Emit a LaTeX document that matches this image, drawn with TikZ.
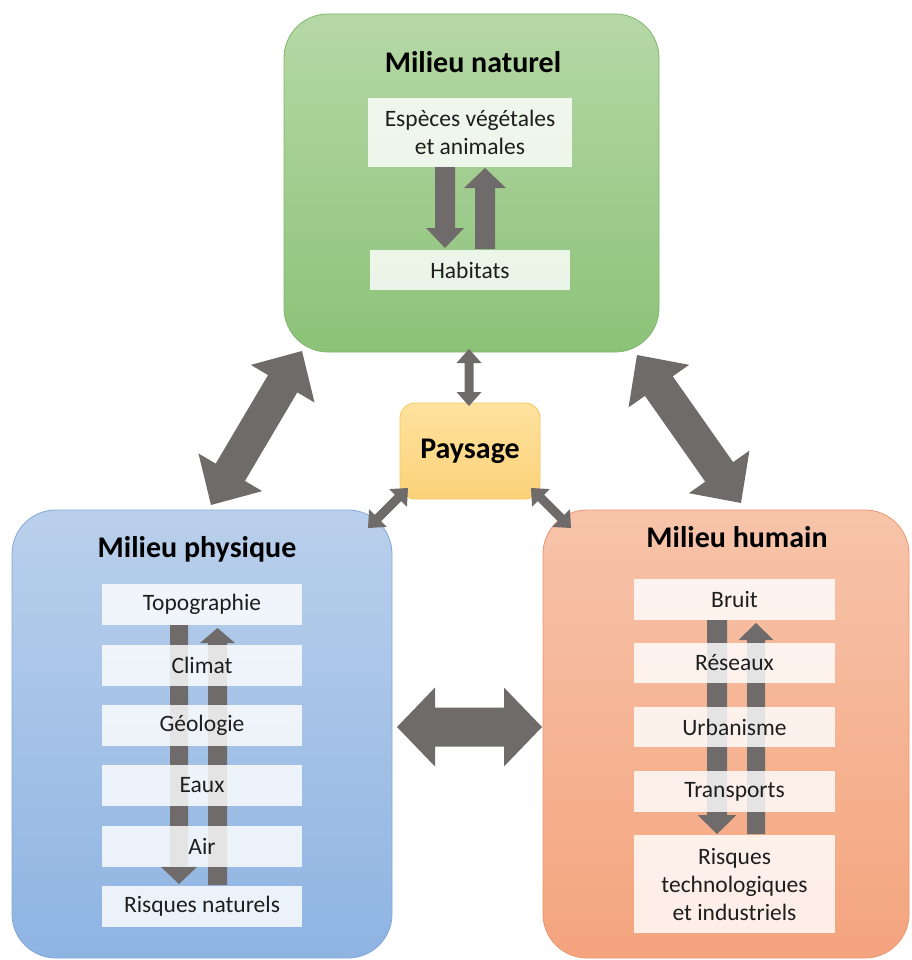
\documentclass[tikz,border=0pt]{standalone}
\usepackage{fontspec}
\setmainfont{Carlito}
\usetikzlibrary{calc}
\definecolor{arrowgray}{RGB}{112,107,107}
\definecolor{gtop}{RGB}{182,216,166}
\definecolor{gbot}{RGB}{140,194,120}
\definecolor{gline}{RGB}{128,182,106}
\definecolor{btop}{RGB}{186,208,236}
\definecolor{bbot}{RGB}{142,180,226}
\definecolor{bline}{RGB}{130,166,214}
\definecolor{otop}{RGB}{247,196,170}
\definecolor{obot}{RGB}{244,164,126}
\definecolor{oline}{RGB}{236,150,112}
\definecolor{ytop}{RGB}{254,226,158}
\definecolor{ybot}{RGB}{252,210,122}
\definecolor{yline}{RGB}{246,200,96}
\definecolor{txt}{RGB}{30,30,30}
\newcommand{\barrow}[5]{%
 \fill[arrowgray] (#1)
  -- ($(#1)!#5!(#2)!#4!90:(#2)$)
  -- ($(#1)!#5!(#2)!#3!90:(#2)$)
  -- ($(#2)!#5!(#1)!#3!-90:(#1)$)
  -- ($(#2)!#5!(#1)!#4!-90:(#1)$)
  -- (#2)
  -- ($(#2)!#5!(#1)!#4!90:(#1)$)
  -- ($(#2)!#5!(#1)!#3!90:(#1)$)
  -- ($(#1)!#5!(#2)!#3!-90:(#2)$)
  -- ($(#1)!#5!(#2)!#4!-90:(#2)$)
  -- cycle;}
\newcommand{\sarrow}[5]{%
 \fill[arrowgray] ($(#1)!#3!90:(#2)$)
  -- ($(#2)!#5!(#1)!#3!-90:(#1)$)
  -- ($(#2)!#5!(#1)!#4!-90:(#1)$)
  -- (#2)
  -- ($(#2)!#5!(#1)!#4!90:(#1)$)
  -- ($(#2)!#5!(#1)!#3!90:(#1)$)
  -- ($(#1)!#3!-90:(#2)$)
  -- cycle;}
\tikzset{
  bigbox/.style={rectangle, rounded corners=44pt, inner sep=0pt, line width=0.8pt},
  titletext/.style={font=\fontsize{30}{34}\selectfont\bfseries, text=black, inner sep=0pt},
  itembox/.style={rectangle, fill=white, fill opacity=0.82, text opacity=1, text=txt,
     inner sep=0pt, font=\fontsize{23.5}{28}\selectfont, align=center},
}
\begin{document}
\begin{tikzpicture}[x=1pt,y=-1pt]
\useasboundingbox (0,0) rectangle (911,960);
% outer boxes
\node[bigbox, draw=gline, top color=gtop, bottom color=gbot, minimum width=375pt, minimum height=338pt] (nat) at (471.5,183) {};
\node[bigbox, draw=bline, top color=btop, bottom color=bbot, minimum width=380pt, minimum height=448pt] (phy) at (202,734) {};
\node[bigbox, draw=oline, top color=otop, bottom color=obot, minimum width=366pt, minimum height=448pt] (hum) at (726,734) {};
\node[rectangle, rounded corners=15pt, draw=yline, line width=0.8pt, top color=ytop, bottom color=ybot,
  minimum width=140pt, minimum height=96pt, inner sep=0pt, font=\fontsize{30}{34}\selectfont\bfseries] (pay) at (470,451) {Paysage};
% titles
\node[titletext] (natT) at (473,62) {Milieu naturel};
\node[titletext] (phyT) at (197,549) {Milieu physique};
\node[titletext] (humT) at (737,537) {Milieu humain};
% inner arrows (drawn below the item boxes)
\coordinate (gd1) at (445,167); \coordinate (gd2) at (445,248);
\coordinate (gu1) at (485,249); \coordinate (gu2) at (485,168);
\sarrow{gd1}{gd2}{10pt}{19pt}{20pt}
\sarrow{gu1}{gu2}{10pt}{21pt}{20pt}
\coordinate (bd1) at (179,625); \coordinate (bd2) at (179,884);
\coordinate (bu1) at (217.5,885); \coordinate (bu2) at (217.5,628);
\sarrow{bd1}{bd2}{9pt}{19pt}{18pt}
\sarrow{bu1}{bu2}{9.5pt}{17.5pt}{15pt}
\coordinate (od1) at (717,620); \coordinate (od2) at (717,834);
\coordinate (ou1) at (756,834); \coordinate (ou2) at (756,623);
\sarrow{od1}{od2}{10pt}{19.5pt}{19pt}
\sarrow{ou1}{ou2}{9pt}{17.5pt}{17pt}
% inner boxes
\node[itembox, minimum width=204pt, minimum height=69pt] (esp) at (470,132.5) {Espèces végétales\\et animales};
\node[itembox, minimum width=200pt, minimum height=40pt] (hab) at (470,270) {Habitats};
\node[itembox, minimum width=200pt, minimum height=41pt] (topo) at (202,604.5) {Topographie};
\node[itembox, minimum width=200pt, minimum height=41pt] (clim) at (202,665) {Climat};
\node[itembox, minimum width=200pt, minimum height=41pt] (geo) at (202,725) {Géologie};
\node[itembox, minimum width=200pt, minimum height=41pt] (eaux) at (202,785.5) {Eaux};
\node[itembox, minimum width=200pt, minimum height=41pt] (air) at (202,846) {Air};
\node[itembox, minimum width=200pt, minimum height=41pt] (rn) at (202,906.5) {Risques naturels};
\node[itembox, minimum width=201pt, minimum height=41pt] (bruit) at (734.5,599.5) {Bruit};
\node[itembox, minimum width=201pt, minimum height=40pt] (res) at (734.5,663) {Réseaux};
\node[itembox, minimum width=201pt, minimum height=40pt] (urb) at (734.5,727) {Urbanisme};
\node[itembox, minimum width=201pt, minimum height=41pt] (trans) at (734.5,791.5) {Transports};
\node[itembox, minimum width=201pt, minimum height=98pt] (rt) at (734.5,884) {Risques\\technologiques\\et industriels};
% big connectors
\coordinate (a1s) at (302,351); \coordinate (a1e) at (211,505);
\coordinate (a2s) at (637,355); \coordinate (a2e) at (741,503);
\coordinate (a3s) at (397,727); \coordinate (a3e) at (542,727);
\barrow{a1s}{a1e}{17pt}{37pt}{38pt}
\barrow{a2s}{a2e}{17pt}{37pt}{38pt}
\barrow{a3s}{a3e}{19.5pt}{39.5pt}{38pt}
% small connectors to Paysage
\coordinate (p1s) at (469,349); \coordinate (p1e) at (469,406);
\coordinate (p2s) at (408,488); \coordinate (p2e) at (368,528);
\coordinate (p3s) at (531,488); \coordinate (p3e) at (571,528);
\barrow{p1s}{p1e}{4.5pt}{12.5pt}{14pt}
\barrow{p2s}{p2e}{4.5pt}{12.5pt}{14pt}
\barrow{p3s}{p3e}{4.5pt}{12.5pt}{14pt}
\end{tikzpicture}
\end{document}
